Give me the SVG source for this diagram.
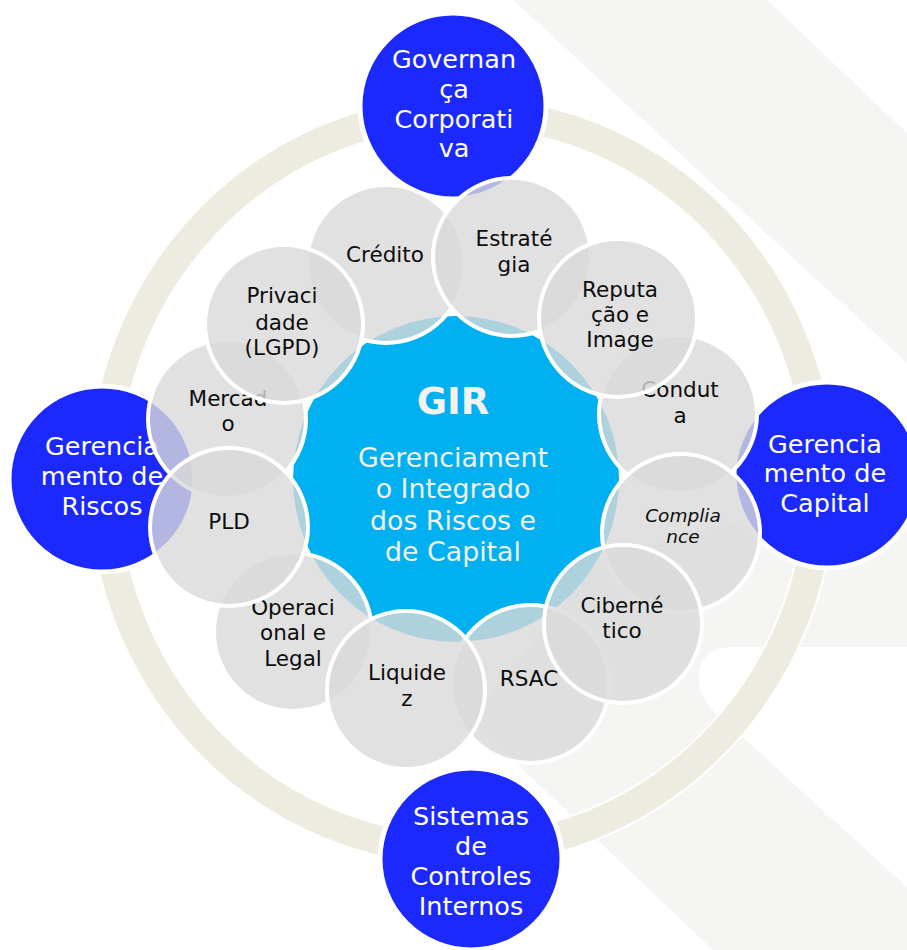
<svg xmlns="http://www.w3.org/2000/svg" width="907" height="950" viewBox="0 0 907 950">
<style>
.bg{fill:#F5F5F3}
.s{fill:#D9D9D9;fill-opacity:0.8;stroke:#fff;stroke-width:4}
.b{fill:#1B29FF;stroke:#fff;stroke-width:5}
.t{font-family:"DejaVu Sans","Liberation Sans",sans-serif;font-size:21.5px;fill:#0D0D0D;text-anchor:middle}
.i{font-style:italic;font-size:18.5px}
.w{font-family:"DejaVu Sans","Liberation Sans",sans-serif;font-size:25.5px;fill:#fff;text-anchor:middle}
.c{font-family:"DejaVu Sans","Liberation Sans",sans-serif;font-size:26.8px;fill:#F2F2F2;text-anchor:middle}
.g{font-weight:bold;font-size:37px}
</style>
<rect width="907" height="950" fill="#fff"/>
<g id="background">
<polygon class="bg" points="513,0 767,0 907,133 907,363"/>
<polygon class="bg" points="907,440 907,950 713,950 513,760 470,718 600,560 745,520"/>
<path fill="#fff" d="M907,647 L730,647 Q700,648 699,677 Q699,697 714,711 L907,887 Z"/>
</g>
<g id="ring">
<ellipse cx="462" cy="481" rx="358" ry="369" fill="none" stroke="#fff" stroke-width="33"/>
<ellipse cx="462" cy="481" rx="358" ry="369" fill="none" stroke="#EEECE1" stroke-width="29"/>
</g>
<g id="connectors"/>
<g id="gir">
<circle cx="456" cy="479" r="163" fill="#00B0F0"/>
</g>
<g id="governanca">
<circle class="b" cx="453" cy="106" r="93"/>
<text class="w" x="454" y="68">Governan</text>
<text class="w" x="454" y="98">ça</text>
<text class="w" x="454" y="128">Corporati</text>
<text class="w" x="454" y="157">va</text>
</g>
<g id="riscos">
<circle class="b" cx="102" cy="479" r="93"/>
<text class="w" x="102" y="455">Gerencia</text>
<text class="w" x="102" y="485">mento de</text>
<text class="w" x="102" y="515">Riscos</text>
</g>
<g id="capital">
<circle class="b" cx="827" cy="475" r="93"/>
<text class="w" x="825" y="453">Gerencia</text>
<text class="w" x="825" y="482">mento de</text>
<text class="w" x="825" y="512">Capital</text>
</g>
<g id="sistemas">
<circle class="b" cx="471" cy="859" r="91"/>
<text class="w" x="471" y="825">Sistemas</text>
<text class="w" x="471" y="855">de</text>
<text class="w" x="471" y="885">Controles</text>
<text class="w" x="471" y="915">Internos</text>
</g>
<g id="credito">
<circle class="s" cx="386" cy="264" r="79"/>
<text class="t" x="385" y="262">Crédito</text>
</g>
<g id="conduta">
<circle class="s" cx="678" cy="414" r="79"/>
<text class="t" x="680" y="397">Condut</text>
<text class="t" x="680" y="423">a</text>
</g>
<g id="rsac">
<circle class="s" cx="530" cy="684" r="79"/>
<text class="t" x="529" y="686">RSAC</text>
</g>
<g id="operacional">
<circle class="s" cx="293" cy="632" r="79"/>
<text class="t" x="293" y="615">Operaci</text>
<text class="t" x="293" y="640">onal e</text>
<text class="t" x="293" y="666">Legal</text>
</g>
<g id="mercado">
<circle class="s" cx="227" cy="419" r="79"/>
<text class="t" x="228" y="406">Mercad</text>
<text class="t" x="228" y="431">o</text>
</g>
<g id="estrategia">
<circle class="s" cx="512" cy="257" r="79"/>
<text class="t" x="514" y="246">Estraté</text>
<text class="t" x="514" y="272">gia</text>
</g>
<g id="reputacao">
<circle class="s" cx="618" cy="318" r="79"/>
<text class="t" x="620" y="297">Reputa</text>
<text class="t" x="620" y="322">ção e</text>
<text class="t" x="620" y="347">Image</text>
</g>
<g id="compliance">
<circle class="s" cx="681" cy="533" r="79"/>
<text class="t i" x="683" y="522">Complia</text>
<text class="t i" x="683" y="543">nce</text>
</g>
<g id="cibernetico">
<circle class="s" cx="623" cy="624" r="79"/>
<text class="t" x="622" y="613">Ciberné</text>
<text class="t" x="622" y="638">tico</text>
</g>
<g id="liquidez">
<circle class="s" cx="406" cy="690" r="79"/>
<text class="t" x="407" y="680">Liquide</text>
<text class="t" x="407" y="706">z</text>
</g>
<g id="pld">
<circle class="s" cx="229" cy="527" r="79"/>
<text class="t" x="229" y="529">PLD</text>
</g>
<g id="privacidade">
<circle class="s" cx="284" cy="324" r="79"/>
<text class="t" x="282" y="303">Privaci</text>
<text class="t" x="282" y="330">dade</text>
<text class="t" x="282" y="355">(LGPD)</text>
</g>
<g id="gir-text">
<text class="c g" x="453" y="414">GIR</text>
<text class="c" x="453" y="467">Gerenciament</text>
<text class="c" x="453" y="498">o Integrado</text>
<text class="c" x="453" y="530">dos Riscos e</text>
<text class="c" x="453" y="561">de Capital</text>
</g>
</svg>
